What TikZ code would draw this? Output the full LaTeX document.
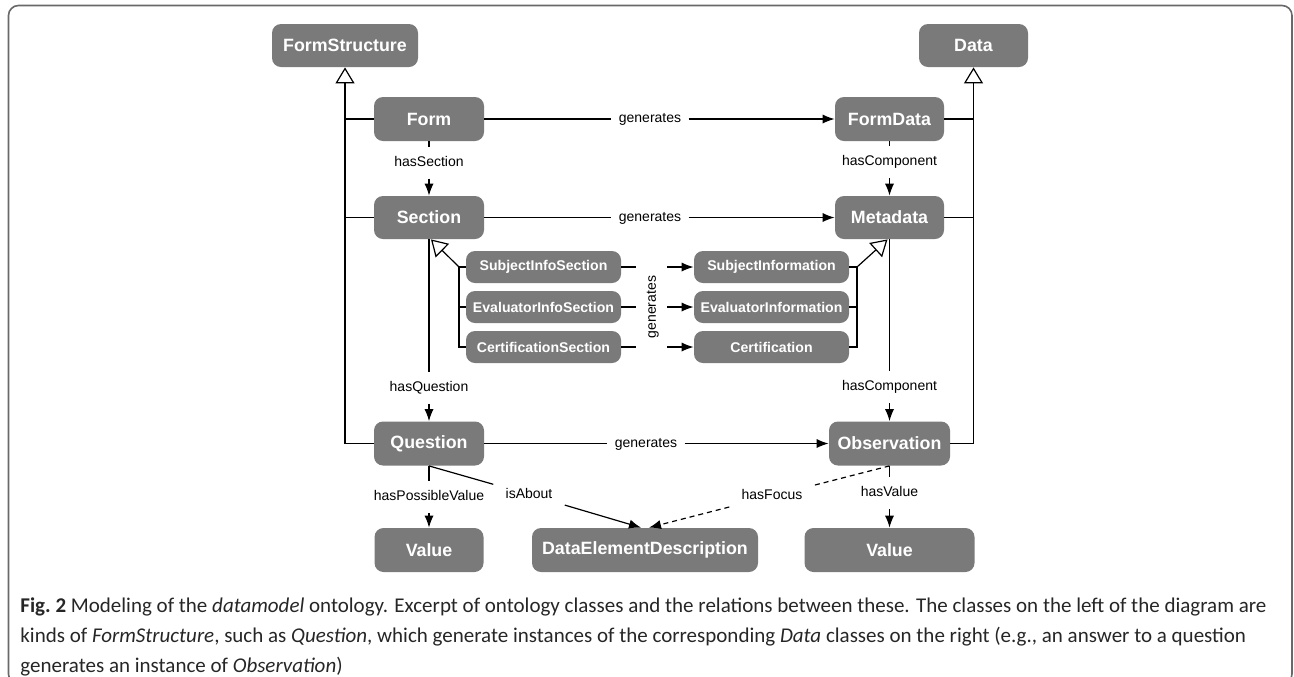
\documentclass[tikz,border=0pt]{standalone}
\usepackage{fontspec}
\setsansfont{Liberation Sans}
\newfontfamily\capfont{Carlito}
\usetikzlibrary{arrows.meta}
\definecolor{boxgray}{RGB}{122,122,122}
\definecolor{framegray}{RGB}{105,105,105}
\begin{document}
\begin{tikzpicture}[x=0.5pt,y=-0.5pt,
  cls/.style={rectangle, rounded corners=4.5pt, fill=boxgray, text=white, inner sep=0pt,
    minimum height=22pt, font=\sffamily\bfseries\fontsize{8.9}{10}\selectfont},
  sub/.style={cls, font=\sffamily\bfseries\fontsize{7.05}{8}\selectfont, minimum width=77.5pt, minimum height=16pt},
  rel/.style={rectangle, inner xsep=3.5pt, inner ysep=4.6pt, text height=5.1pt, text depth=1.3pt,
    font=\sffamily\fontsize{7}{8}\selectfont},
  dlab/.style={rel, inner xsep=6pt},
  conn/.style={line width=0.6pt},
  arr/.style={conn, -{Latex[length=6pt,width=4.6pt]}},
  gen/.style={conn, -{Triangle[open,length=8pt,width=9.5pt,fill=white]}},
]
\useasboundingbox (0,0) rectangle (1294,676);
\draw[framegray, line width=0.8pt, rounded corners=5pt] (8.5,5.5) rectangle (1292,684);

% class nodes
\node[cls, minimum width=73pt, minimum height=21.5pt] (FS) at (345,45.5) {FormStructure};
\node[cls, minimum width=54.5pt, minimum height=21.5pt] (Data) at (973.5,45.5) {Data};
\node[cls, minimum width=55pt] (Form) at (429,119) {Form};
\node[cls, minimum width=54.5pt] (FD) at (889.5,119) {FormData};
\node[cls, minimum width=55pt, minimum height=21.5pt] (Sec) at (429,217.5) {Section};
\node[cls, minimum width=54.5pt, minimum height=21.5pt] (Meta) at (889.5,217.5) {Metadata};
\node[sub] (SIS) at (543.5,267) {SubjectInfoSection};
\node[sub] (EIS) at (543.5,307) {EvaluatorInfoSection};
\node[sub] (CS) at (543.5,347) {CertificationSection};
\node[sub] (SI) at (771.5,267) {SubjectInformation};
\node[sub] (EI) at (771.5,307) {EvaluatorInformation};
\node[sub] (Cert) at (771.5,347) {Certification};
\node[cls, minimum width=55pt] (Q) at (429,443.5) {Question};
\node[cls, minimum width=60.5pt] (Obs) at (889.5,443.5) {Observation};
\node[cls, minimum width=54.5pt] (V1) at (429,550) {Value};
\node[cls, minimum width=113pt] (DED) at (645,550) {DataElementDescription};
\node[cls, minimum width=85pt] (V2) at (889.5,550) {Value};

% relation labels
\node[rel] (g1) at (650,119) {generates};
\node[rel] (g2) at (650,217.5) {generates};
\node[rel] (g3) at (646,443.5) {generates};
\node[rel] (hs) at (429,162.5) {hasSection};
\node[rel] (hc1) at (889.5,162) {hasComponent};
\node[rel] (hq) at (429,387.5) {hasQuestion};
\node[rel] (hc2) at (889.5,387) {hasComponent};
\node[rel] (hpv) at (429,497) {hasPossibleValue};
\node[rel] (hv) at (889.5,493) {hasValue};
\node[dlab] (ia) at (529,494.5) {isAbout};
\node[dlab] (hf) at (772,496) {hasFocus};
\node[rel, rotate=90] (gv) at (652,307) {generates};

% generates
\draw[conn] (Form) -- (g1); \draw[arr] (g1) -- (FD);
\draw[conn] (Sec) -- (g2); \draw[arr] (g2) -- (Meta);
\draw[conn] (Q) -- (g3); \draw[arr] (g3) -- (Obs);

% vertical relations
\draw[conn] (Form) -- (hs); \draw[arr] (hs) -- (Sec);
\draw[conn] (FD) -- (hc1); \draw[arr] (hc1) -- (Meta);
\draw[conn] (Sec) -- (hq); \draw[arr] (hq) -- (Q);
\draw[conn] (Meta) -- (hc2); \draw[arr] (hc2) -- (Obs);
\draw[conn] (Q) -- (hpv); \draw[arr] (hpv) -- (V1);
\draw[conn] (Obs) -- (hv); \draw[arr] (hv) -- (V2);

% isAbout / hasFocus
\draw[conn] (Q.south) -- (ia); \draw[arr] (ia) -- ([xshift=-2pt]DED.north);
\draw[conn, dash pattern=on 2.5pt off 2pt] (Obs.south) -- (hf);
\draw[arr, dash pattern=on 2.5pt off 2pt] (hf) -- ([xshift=2pt]DED.north);

% generalisations
\draw[gen] (Q.west) -| (FS.south);
\draw[conn] (Form.west) -- (Form.west -| FS.south);
\draw[conn] (Sec.west) -- (Sec.west -| FS.south);
\draw[gen] (Obs.east) -| (Data.south);
\draw[conn] (FD.east) -- (FD.east -| Data.south);
\draw[conn] (Meta.east) -- (Meta.east -| Data.south);

% sub-section brackets
\coordinate (bl1) at (459,267); \coordinate (bl2) at (459,307); \coordinate (bl3) at (459,347);
\coordinate (br1) at (857,267); \coordinate (br2) at (857,307); \coordinate (br3) at (857,347);
\draw[conn] (SIS.west) -- (bl1) -- (bl3) -- (CS.west);
\draw[conn] (EIS.west) -- (bl2);
\draw[gen] (bl1) -- ([xshift=1pt]Sec.south);
\draw[conn] (SI.east) -- (br1) -- (br3) -- (Cert.east);
\draw[conn] (EI.east) -- (br2);
\draw[gen] (br1) -- ([xshift=-1pt]Meta.south);

% sub generates
\coordinate (a1) at (636,267); \coordinate (b1) at (667,267);
\coordinate (a2) at (636,307); \coordinate (b2) at (667,307);
\coordinate (a3) at (636,347); \coordinate (b3) at (667,347);
\draw[conn] (SIS) -- (a1); \draw[arr] (b1) -- (SI);
\draw[conn] (EIS) -- (a2); \draw[arr] (b2) -- (EI);
\draw[conn] (CS) -- (a3); \draw[arr] (b3) -- (Cert);

% caption
\node[anchor=north west, align=left, inner sep=0pt, text=black!85,
  font=\capfont\fontsize{10.5}{15}\selectfont] (cap) at (20,597)
{{\bfseries Fig.\ 2} Modeling of the \textit{datamodel} ontology. Excerpt of ontology classes and the relations between these. The classes on the left of the diagram are\\
kinds of \textit{FormStructure}, such as \textit{Question}, which generate instances of the corresponding \textit{Data} classes on the right (e.g., an answer to a question\\
generates an instance of \textit{Observation})};
\end{tikzpicture}
\end{document}
